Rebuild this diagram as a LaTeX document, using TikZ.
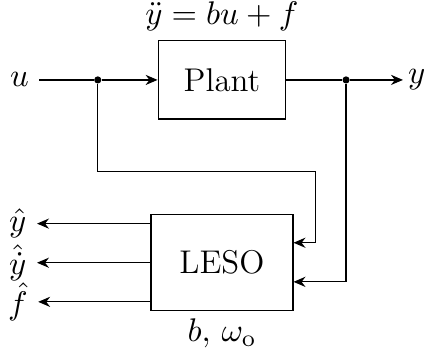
\documentclass[tikz,border=0pt]{standalone}
\usetikzlibrary{arrows.meta}
\begin{document}
\begin{tikzpicture}[
    every node/.style={font=\fontsize{11}{13}\selectfont},
    blk/.style={draw, minimum width=1.5cm, minimum height=0.92cm},
    obs/.style={draw, minimum width=1.67cm, minimum height=1.13cm},
    lbl/.style={inner ysep=1pt},
    sig/.style={-{Stealth[length=4pt, width=3.4pt]}},
    jdot/.style={circle, fill, inner sep=0pt, minimum size=2.4pt},
]
\useasboundingbox (-2.61,-3.22) rectangle (2.40,0.94);
% ── Bloques ──
\node[blk] (plant) at (0,0) {Plant};
\node[obs] (leso) at (0,-2.15) {LESO};
\node[anchor=base] (model) at ([yshift=0.19cm]plant.north) {$\ddot{y}=bu+f$};
\node[anchor=base] (param) at ([yshift=-0.35cm]leso.south) {$b,\,\omega_\mathrm{o}$};

% ── Entrada y salida de la planta ──
\node (u) at (-2.38,0) {$u$};
\node[inner xsep=1.5pt] (y) at (2.29,0) {$y$};
\node[jdot] (ju) at (-1.46,0) {};
\node[jdot] (jy) at (1.46,0) {};
\draw (u) -- (ju);
\draw[sig] (ju) -- (plant);
\draw (plant) -- (jy);
\draw[sig] (jy) -- (y);

% ── Realimentación hacia el observador ──
\coordinate (fb) at (1.105,-1.08);
\draw[sig] (ju) |- (fb) |- ([yshift=0.235cm]leso.east);
\draw[sig] (jy) |- ([yshift=-0.225cm]leso.east);

% ── Estimaciones ──
\node[lbl] (yh) at (-2.40,-1.69) {$\hat{y}$};
\node[lbl] (dyh) at (-2.40,-2.15) {$\hat{\dot{y}}$};
\node[lbl] (fh) at (-2.40,-2.61) {$\hat{f}$};
\foreach \e in {yh, dyh, fh}
    \draw[sig] (leso.west |- \e) -- (\e);
\end{tikzpicture}
\end{document}
